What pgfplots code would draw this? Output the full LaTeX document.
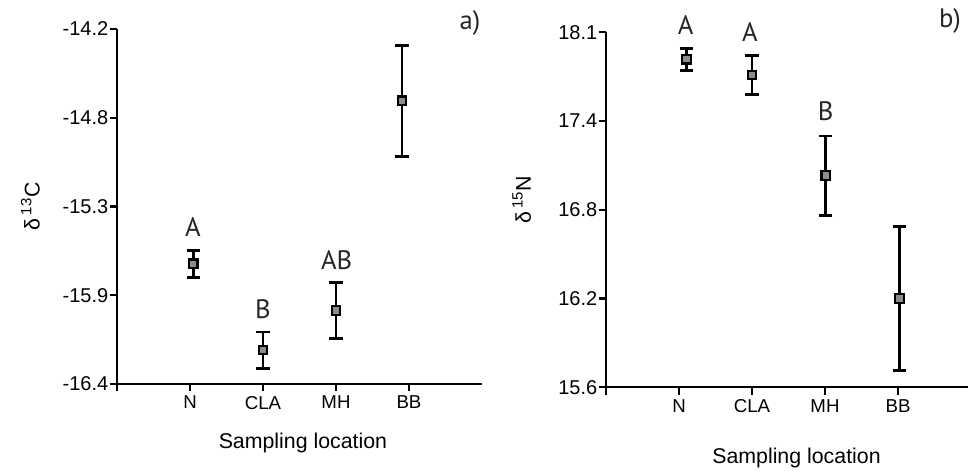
\documentclass[border=0pt]{standalone}
\usepackage{fontspec}
\setmainfont{Liberation Sans}
\newfontfamily\letterfont{PT Sans}
\usepackage{pgfplots}
\usepackage{pgfplotstable}
\pgfplotsset{compat=1.18}

% x = location index (N=1, CLA=2, MH=3, BB=4), y = mean, e = error
\pgfplotstableread{
x     y       e
1.045 -15.655 0.083
2.00  -16.190 0.112
3.00  -15.945 0.172
3.905 -14.645 0.344
}\carbon

\pgfplotstableread{
x     y      e
1.10  17.91  0.078
2.00  17.80  0.136
3.01  17.09  0.280
4.02  16.224 0.507
}\nitrogen

\pgfplotsset{
  panel/.style={
    scale only axis, width=273.75pt, height=266.25pt,
    axis x line*=bottom, axis y line*=left,
    x axis line style={-}, y axis line style={-},
    axis line style={line width=1.7pt, black},
    xmin=0, xmax=5,
    xtick={0,1,2,3,4}, xticklabels={,N,CLA,MH,BB},
    tick align=outside, major tick length=5.5pt,
    major tick style={line width=1.7pt, black},
    tick label style={font=\fontsize{14}{16}\selectfont},
    yticklabel style={font=\fontsize{15}{17}\selectfont, xshift=2.5pt},
    label style={font=\fontsize{16}{18}\selectfont},
    clip=false,
  },
  pts/.style={
    only marks, mark=square*, mark size=3.2pt,
    mark options={fill=gray!90, draw=black, line width=1.6pt},
    error bars/.cd, y dir=both, y explicit,
    error bar style={line width=2pt, black},
    error mark options={rotate=90, mark size=5pt, line width=2pt, black},
  },
}
\tikzset{lab/.style={font=\letterfont\fontsize{20}{22}\selectfont, text=black!85}}

\begin{document}
\begin{tikzpicture}
\useasboundingbox (0,0) rectangle (726pt,353.25pt);

% a) carbon
\begin{axis}[panel,
    at={(87.75pt,65.25pt)}, anchor=south west,
    ymin=-16.4, ymax=-14.2,
    ytick={-16.4,-15.85,-15.3,-14.75,-14.2},
    yticklabels={-16.4,-15.9,-15.3,-14.8,-14.2},
    xlabel={Sampling location},
    xlabel style={at={(axis description cs:0.5,0)}, anchor=center, yshift=-44.25pt, xshift=2.6pt},
    ylabel={δ\,\textsuperscript{13}C},
    ylabel style={at={(axis description cs:0,0.5)}, anchor=center, rotate=0, xshift=0pt, yshift=65pt},
]
\addplot[pts] table[x=x, y=y, y error=e] {\carbon};
\node[lab] at (axis cs:1.04,-15.427) {A};
\node[lab] at (axis cs:2,-15.935) {B};
\node[lab] at (axis cs:3.01,-15.631) {AB};
\end{axis}

% b) nitrogen
\begin{axis}[panel,
    at={(454.5pt,62.8pt)}, anchor=south west,
    ymin=15.6, ymax=18.1,
    ytick={15.6,16.225,16.85,17.475,18.1},
    yticklabels={15.6,16.2,16.8,17.4,18.1},
    xlabel={Sampling location},
    xlabel style={at={(axis description cs:0.5,0)}, anchor=center, yshift=-53pt, xshift=6pt},
    ylabel={δ\,\textsuperscript{15}N},
    ylabel style={at={(axis description cs:0,0.5)}, anchor=center, rotate=0, yshift=63.2pt, xshift=7.4pt},
]
\addplot[pts] table[x=x, y=y, y error=e] {\nitrogen};
\node[lab] at (axis cs:1.09,18.151) {A};
\node[lab] at (axis cs:1.97,18.102) {A};
\node[lab] at (axis cs:3.01,17.546) {B};
\end{axis}

\node[lab] at (352.5pt,336pt) {a)};
\node[lab] at (712.5pt,337.7pt) {b)};
\end{tikzpicture}
\end{document}
